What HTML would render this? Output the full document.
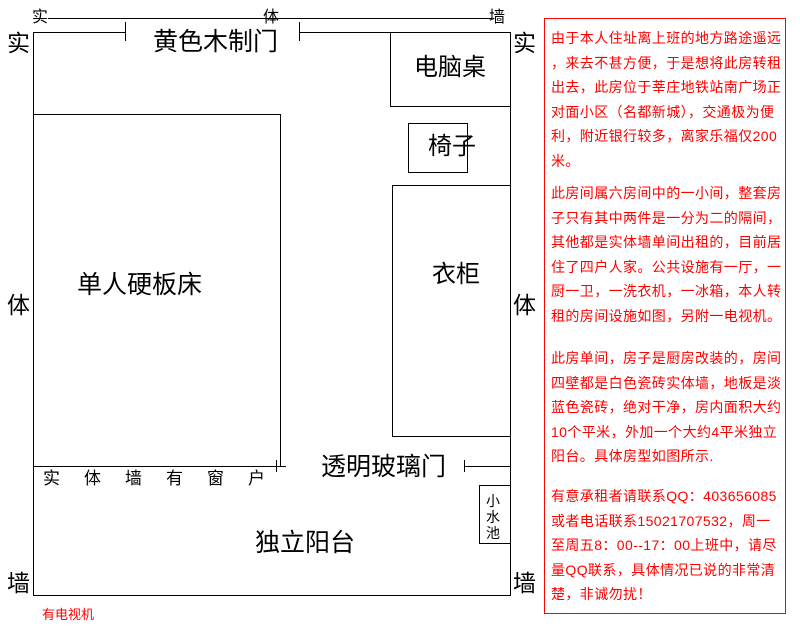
<!DOCTYPE html>
<html><head><meta charset="utf-8"><style>
body{margin:0;width:800px;height:626px;background:#fff;position:relative;overflow:hidden;font-family:"Liberation Sans","Noto Sans CJK SC",sans-serif;}
.t{position:absolute;color:#000;white-space:nowrap;line-height:1;}
.r{position:absolute;left:544px;top:18px;width:242px;height:596px;border:1px solid #f00;box-sizing:border-box;}
.p{position:absolute;left:551px;color:#f00;font-size:14px;letter-spacing:0.4px;line-height:24.5px;white-space:nowrap;}
</style></head><body>
<svg width="800" height="626" style="position:absolute;left:0;top:0" shape-rendering="crispEdges">
<g stroke="#000" stroke-width="1" fill="none">
<line x1="48" y1="18.5" x2="492" y2="18.5"/>
<line x1="33.5" y1="32" x2="33.5" y2="596"/>
<line x1="510.5" y1="32" x2="510.5" y2="596"/>
<line x1="33" y1="32.5" x2="125" y2="32.5"/>
<line x1="125.5" y1="22" x2="125.5" y2="41"/>
<line x1="299.5" y1="22" x2="299.5" y2="41"/>
<line x1="299" y1="32.5" x2="510" y2="32.5"/>
<line x1="33" y1="595.5" x2="511" y2="595.5"/>
<rect x="390.5" y="32.5" width="120" height="74"/>
<rect x="408.5" y="123.5" width="59" height="49"/>
<rect x="392.5" y="185.5" width="118" height="251"/>
<rect x="33.5" y="114.5" width="247" height="352"/>
<line x1="276.5" y1="460" x2="276.5" y2="472"/>
<line x1="276" y1="466.5" x2="286" y2="466.5"/>
<line x1="464.5" y1="460" x2="464.5" y2="472"/>
<line x1="464" y1="466.5" x2="510" y2="466.5"/>
<rect x="479.5" y="485.5" width="31" height="58"/>
</g></svg>
<div class="t" style="left:32px;top:10px;font-size:16px">实</div>
<div class="t" style="left:263px;top:10px;font-size:16px">体</div>
<div class="t" style="left:489px;top:10px;font-size:16px">墙</div>
<div class="t" style="left:7px;top:32px;font-size:23px">实</div>
<div class="t" style="left:7px;top:294px;font-size:23px">体</div>
<div class="t" style="left:7px;top:572px;font-size:23px">墙</div>
<div class="t" style="left:513px;top:32px;font-size:23px">实</div>
<div class="t" style="left:513px;top:294px;font-size:23px">体</div>
<div class="t" style="left:513px;top:572px;font-size:23px">墙</div>
<div class="t" style="left:153px;top:30px;font-size:25px">黄色木制门</div>
<div class="t" style="left:414px;top:56px;font-size:24px">电脑桌</div>
<div class="t" style="left:428px;top:135px;font-size:24px">椅子</div>
<div class="t" style="left:432px;top:263px;font-size:24px">衣柜</div>
<div class="t" style="left:77px;top:273px;font-size:25px">单人硬板床</div>
<div class="t" style="left:321px;top:455px;font-size:25px">透明玻璃门</div>
<div class="t" style="left:255px;top:531px;font-size:25px">独立阳台</div>
<div class="t" style="left:43px;top:470px;font-size:17px;letter-spacing:24px">实体墙有窗户</div>
<div class="t" style="left:486px;top:493px;font-size:14px;line-height:16px;width:16px;white-space:normal">小水池</div>
<div class="t" style="left:42px;top:608px;font-size:13px;color:#f00">有电视机</div>
<div class="r"></div>
<div class="p" style="top:26px">由于本人住址离上班的地方路途遥远<br>，来去不甚方便，于是想将此房转租<br>出去，此房位于莘庄地铁站南广场正<br>对面小区（名都新城），交通极为便<br>利，附近银行较多，离家乐福仅200<br>米。</div>
<div class="p" style="top:181px">此房间属六房间中的一小间，整套房<br>子只有其中两件是一分为二的隔间，<br>其他都是实体墙单间出租的，目前居<br>住了四户人家。公共设施有一厅，一<br>厨一卫，一洗衣机，一冰箱，本人转<br>租的房间设施如图，另附一电视机。</div>
<div class="p" style="top:346px">此房单间，房子是厨房改装的，房间<br>四壁都是白色瓷砖实体墙，地板是淡<br>蓝色瓷砖，绝对干净，房内面积大约<br>10个平米，外加一个大约4平米独立<br>阳台。具体房型如图所示.</div>
<div class="p" style="top:484px">有意承租者请联系QQ：403656085<br>或者电话联系15021707532，周一<br>至周五8：00--17：00上班中，请尽<br>量QQ联系，具体情况已说的非常清<br>楚，非诚勿扰！</div>
</body></html>
